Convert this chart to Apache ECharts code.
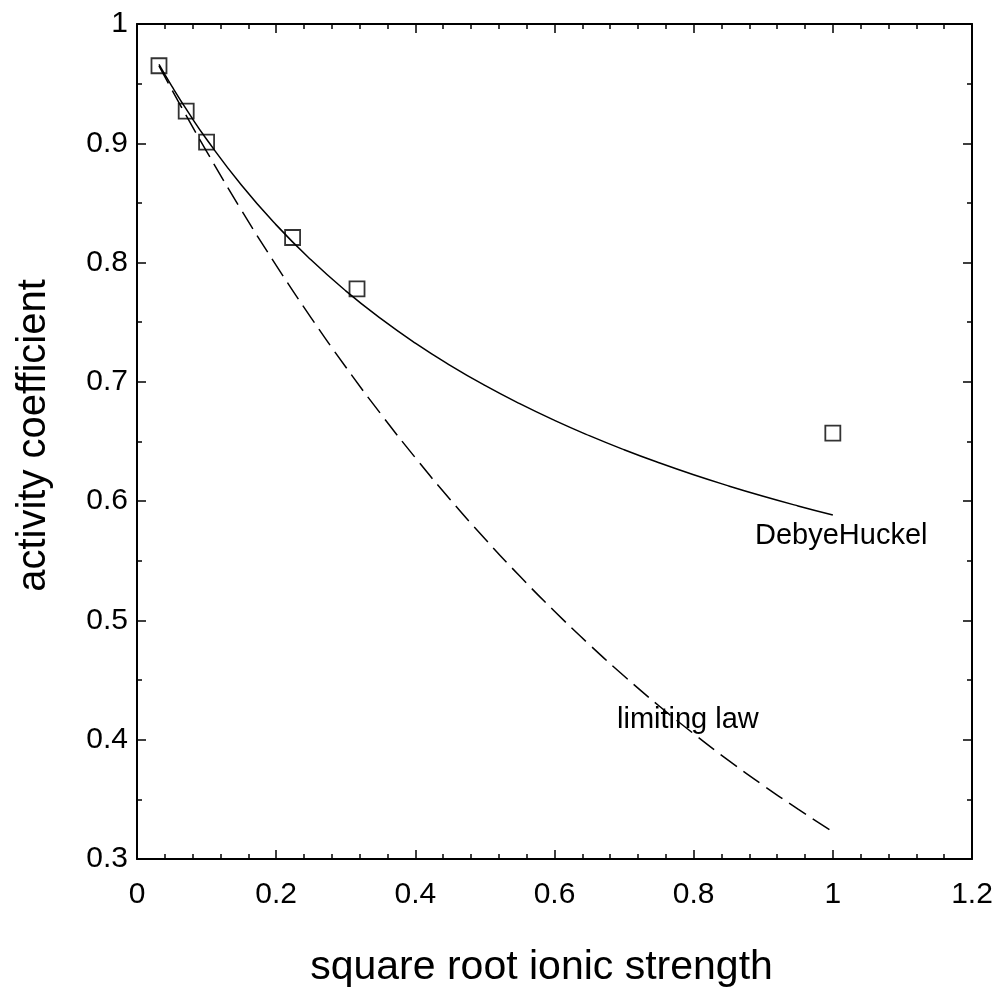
<!DOCTYPE html>
<html>
<head>
<meta charset="utf-8">
<title>Activity coefficient vs square root ionic strength</title>
<script src="https://cdn.jsdelivr.net/npm/echarts@6/dist/echarts.min.js"></script>
<style>
  html, body { margin: 0; padding: 0; background: #fff; }
  #chart { width: 1000px; height: 996px; }
</style>
</head>
<body>
<div id="chart"></div>
<script>
// Measured activity coefficients against the square root of ionic strength
const sqrtI = [0.0316, 0.0707, 0.1, 0.2236, 0.3162, 1.0];
const gammaMeasured = [0.965, 0.927, 0.901, 0.821, 0.778, 0.657];

// Abscissae for the two model curves
const curveX = [0.0316, 0.05, 0.075, 0.1, 0.15, 0.2, 0.25, 0.3, 0.35, 0.4, 0.45,
                0.5, 0.55, 0.6, 0.65, 0.7, 0.75, 0.8, 0.85, 0.9, 0.95, 1.0];
// Extended Debye-Huckel curve
const debyeHuckel = [0.9661, 0.9479, 0.9248, 0.9034, 0.8650, 0.8316, 0.8023, 0.7763,
                     0.7532, 0.7325, 0.7139, 0.6970, 0.6817, 0.6677, 0.6549, 0.6431,
                     0.6322, 0.6221, 0.6128, 0.6041, 0.5960, 0.5884];
// Debye-Huckel limiting law
const limitingLaw = [0.9649, 0.9450, 0.9188, 0.8932, 0.8440, 0.7977, 0.7539, 0.7125,
                     0.6734, 0.6364, 0.6014, 0.5684, 0.5372, 0.5077, 0.4798, 0.4534,
                     0.4285, 0.4050, 0.3827, 0.3617, 0.3418, 0.3228];

const xTicks = { min: 0, max: 1.2, interval: 0.2 };
const yTicks = { min: 0.3, max: 1.0, interval: 0.1 };

const FONT = 'Liberation Sans';
const INK = '#000';

function pairs(xs, ys) { return xs.map((x, i) => [x, ys[i]]); }

function axisStyle(showLabel, minorSplit, margin) {
  return {
    axisLine: { show: true, onZero: false, lineStyle: { color: INK, width: 2 } },
    axisTick: { show: true, inside: true, length: 9, lineStyle: { color: INK, width: 1.5 } },
    minorTick: { show: true, splitNumber: minorSplit, length: 5, lineStyle: { color: INK, width: 1.5 } },
    splitLine: { show: false },
    minorSplitLine: { show: false },
    axisLabel: { show: showLabel, color: INK, fontFamily: FONT, fontSize: 30, margin: margin }
  };
}

const chart = echarts.init(document.getElementById('chart'), null, { renderer: 'canvas' });

chart.setOption({
  animation: false,
  backgroundColor: '#fff',
  grid: { left: 137, right: 28, top: 24, bottom: 137, containLabel: false },
  xAxis: [
    Object.assign({
      type: 'value', position: 'bottom',
      min: xTicks.min, max: xTicks.max, interval: xTicks.interval,
      name: 'square root ionic strength', nameLocation: 'middle', nameGap: 88,
      nameTextStyle: { color: INK, fontFamily: FONT, fontSize: 41, padding: [0, 26, 0, 0] }
    }, axisStyle(true, 5, 21)),
    Object.assign({
      type: 'value', position: 'top',
      min: xTicks.min, max: xTicks.max, interval: xTicks.interval
    }, axisStyle(false, 5, 8))
  ],
  yAxis: [
    Object.assign({
      type: 'value', position: 'left',
      min: yTicks.min, max: yTicks.max, interval: yTicks.interval,
      name: 'activity coefficient', nameLocation: 'middle', nameGap: 83,
      nameTextStyle: { color: INK, fontFamily: FONT, fontSize: 40, padding: [0, 0, 0, 12] }
    }, axisStyle(true, 2, 9)),
    Object.assign({
      type: 'value', position: 'right',
      min: yTicks.min, max: yTicks.max, interval: yTicks.interval
    }, axisStyle(false, 2, 8))
  ],
  series: [
    {
      name: 'DebyeHuckel', type: 'line', smooth: true, symbol: 'none',
      xAxisIndex: 0, yAxisIndex: 0,
      lineStyle: { color: INK, width: 1.5 },
      data: pairs(curveX, debyeHuckel),
      z: 2
    },
    {
      name: 'limiting law', type: 'line', smooth: true, symbol: 'none',
      xAxisIndex: 0, yAxisIndex: 0,
      lineStyle: { color: INK, width: 1.5, type: [20, 8] },
      data: pairs(curveX, limitingLaw),
      z: 2
    },
    {
      name: 'measured', type: 'scatter', symbol: 'rect', symbolSize: 15,
      xAxisIndex: 0, yAxisIndex: 0,
      itemStyle: { color: 'rgba(0,0,0,0)', borderColor: INK, borderWidth: 1.8 },
      data: pairs(sqrtI, gammaMeasured),
      z: 3
    }
  ],
  graphic: [
    {
      type: 'text', left: 755, top: 521,
      style: { text: 'DebyeHuckel', fill: INK, font: '29px "Liberation Sans"' }
    },
    {
      type: 'text', left: 617, top: 705,
      style: { text: 'limiting law', fill: INK, font: '29px "Liberation Sans"' }
    }
  ]
});
</script>
</body>
</html>
